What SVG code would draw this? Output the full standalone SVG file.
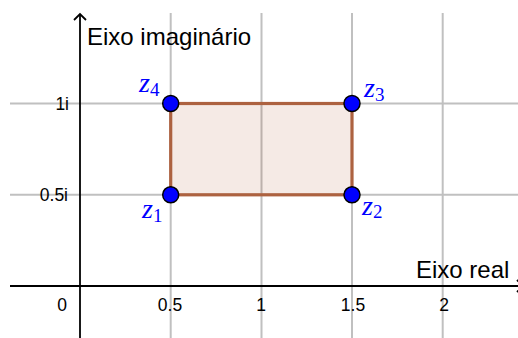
<svg xmlns="http://www.w3.org/2000/svg" width="518" height="338" viewBox="0 0 518 338">
<style>
.grid{stroke:#c0c0c0;stroke-width:2;fill:none}
.axis{stroke:#000;stroke-width:1.8;fill:none}
.ax-lbl{font-family:"Liberation Sans",Arial,sans-serif;font-size:24px;fill:#000}
.tick{font-family:"Liberation Sans",Arial,sans-serif;font-size:17.5px;fill:#000}
.pt{fill:#0000ff;stroke:#000;stroke-width:1.5}
.zl{font-family:"Liberation Serif","Times New Roman",serif;fill:#0000ff}
.zl .z{font-style:italic;font-size:28px}
.zl .s{font-size:19px}
</style>
<rect width="518" height="338" fill="#fff"/>
<g id="grid">
<line class="grid" x1="170.7" y1="13" x2="170.7" y2="338"/>
<line class="grid" x1="261.5" y1="13" x2="261.5" y2="338"/>
<line class="grid" x1="352" y1="13" x2="352" y2="338"/>
<line class="grid" x1="442.7" y1="13" x2="442.7" y2="338"/>
<line class="grid" x1="10" y1="103.5" x2="518" y2="103.5"/>
<line class="grid" x1="10" y1="194.8" x2="518" y2="194.8"/>
</g>
<g id="axes">
<line class="axis" x1="80" y1="14" x2="80" y2="338"/>
<polyline class="axis" points="74,20 80,14 86,20"/>
<line class="axis" x1="10" y1="286" x2="523" y2="286"/>
<polyline class="axis" points="517,280 523,286 517,292"/>
<text class="ax-lbl" x="87" y="45">Eixo imaginário</text>
<text class="ax-lbl" x="416" y="278">Eixo real</text>
<g class="tick" text-anchor="middle">
<text x="62" y="311">0</text>
<text x="170" y="311">0.5</text>
<text x="261" y="311">1</text>
<text x="353" y="311">1.5</text>
<text x="444" y="311">2</text>
</g>
<g class="tick" text-anchor="end">
<text x="69" y="110">1i</text>
<text x="68" y="201">0.5i</text>
</g>
</g>
<g id="connectors">
<rect x="170.7" y="103.5" width="181.3" height="91.3" fill="#993300" fill-opacity="0.1" stroke="#ad6240" stroke-width="3.2"/>
</g>
<g id="z1">
<circle class="pt" cx="170.7" cy="194.8" r="8"/>
<text class="zl" x="142" y="218"><tspan class="z">z</tspan><tspan class="s" dy="4">1</tspan></text>
</g>
<g id="z2">
<circle class="pt" cx="352" cy="194.8" r="8"/>
<text class="zl" x="362" y="215"><tspan class="z">z</tspan><tspan class="s" dy="3">2</tspan></text>
</g>
<g id="z3">
<circle class="pt" cx="352" cy="103.5" r="8"/>
<text class="zl" x="364" y="97"><tspan class="z">z</tspan><tspan class="s" dy="4">3</tspan></text>
</g>
<g id="z4">
<circle class="pt" cx="170.7" cy="103.5" r="8"/>
<text class="zl" x="139" y="92"><tspan class="z">z</tspan><tspan class="s" dy="4">4</tspan></text>
</g>
</svg>
